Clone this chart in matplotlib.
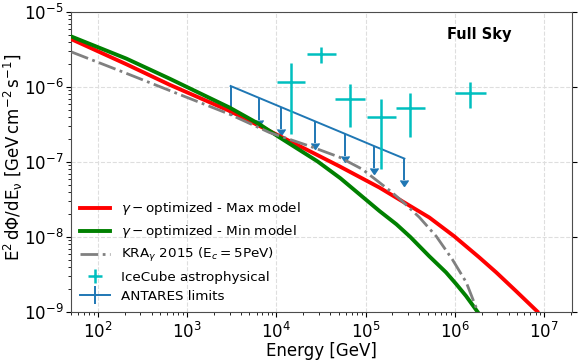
import numpy as np
import matplotlib
matplotlib.use("Agg")
import matplotlib.pyplot as plt
from matplotlib.lines import Line2D
from matplotlib.legend_handler import HandlerTuple

# ---- data ----
max_E = [50.8, 209, 639, 3000, 8390, 23500, 50900, 143000, 258000, 517000, 985000, 1.87e6,
         2.90e6, 4.82e6, 8.35e6]
max_F = [4.33e-6, 2.01e-6, 1.07e-6, 4.79e-7, 2.59e-7, 1.40e-7, 8.77e-8, 4.56e-8, 2.99e-8,
         1.82e-8, 1.02e-8, 5.36e-9, 3.38e-9, 1.91e-9, 1.02e-9]

min_E = [50.8, 209, 639, 3000, 6490, 10860, 28900, 52200, 143000, 221000, 317000,
         517000, 795000, 1.04e6, 1.33e6, 1.80e6]
min_F = [4.70e-6, 2.39e-6, 1.29e-6, 5.31e-7, 3.18e-7, 2.13e-7, 1.02e-7, 6.07e-8,
         2.22e-8, 1.48e-8, 1.0e-8, 5.53e-9, 3.38e-9, 2.34e-9, 1.64e-9, 1.0e-9]

kra_E = [50.8, 209, 990, 3000, 8390, 23500, 50900, 92000, 184600, 258000, 400000, 619000,
         935000, 1.34e6, 1.78e6]
kra_F = [2.93e-6, 1.52e-6, 7.29e-7, 4.33e-7, 2.47e-7, 1.63e-7, 1.16e-7, 8.0e-8, 4.20e-8,
         2.99e-8, 1.83e-8, 1.02e-8, 5.04e-9, 2.49e-9, 1.05e-9]

ic_E = [14680, 31800, 67600, 149000, 317000, 1.49e6]
ic_Elo = [10100, 21900, 45900, 103000, 219000, 1.01e6]
ic_Ehi = [21200, 46800, 99600, 219000, 467000, 2.23e6]
ic_F = [1.17e-6, 2.79e-6, 7.0e-7, 4.03e-7, 5.31e-7, 8.42e-7]
ic_Flo = [2.34e-7, 2.07e-6, 2.97e-7, 8.0e-8, 2.15e-7, 5.2e-7]
ic_Fhi = [2.12e-6, 3.46e-6, 1.09e-6, 7.0e-7, 8.24e-7, 1.15e-6]

ant_E = [3080, 6320, 11350, 27400, 59000, 123000, 272000]
ant_F = [1.03e-6, 7.20e-7, 5.38e-7, 3.47e-7, 2.37e-7, 1.64e-7, 1.11e-7]
ant_end = [5.04e-7, 3.60e-7, 2.73e-7, 1.78e-7, 1.20e-7, 8.24e-8, 5.70e-8]

fig = plt.figure(figsize=(5.81, 3.63), dpi=100)
ax = fig.add_axes([0.122, 0.1405, 0.8625, 0.8265])

h_max, = ax.plot(max_E, max_F, color='red', lw=2.8, label=r'$\gamma-$optimized - Max model', zorder=3)
h_min, = ax.plot(min_E, min_F, color='green', lw=2.8, label=r'$\gamma-$optimized - Min model', zorder=3)
h_kra, = ax.plot(kra_E, kra_F, color='gray', lw=2.0, ls='-.', label=r'KRA$_\gamma$ 2015 (E$_c = $5PeV)', zorder=3)

ic_E_a = np.array(ic_E); ic_F_a = np.array(ic_F)
xerr = [ic_E_a - np.array(ic_Elo), np.array(ic_Ehi) - ic_E_a]
yerr = [ic_F_a - np.array(ic_Flo), np.array(ic_Fhi) - ic_F_a]
h_ic = ax.errorbar(ic_E, ic_F, xerr=xerr, yerr=yerr, fmt='.', color='c', ms=3, lw=1.8,
                   capsize=0, zorder=4)

ant_F_a = np.array(ant_F)
ax.errorbar(ant_E, ant_F, yerr=ant_F_a - np.array(ant_end), uplims=True, fmt='-',
            color='C0', lw=1.4, elinewidth=1.4, ms=5, zorder=2)
ant_proxy = (Line2D([], [], color='C0', lw=1.4),
             Line2D([], [], color='C0', marker='|', ms=13, mew=1.4, ls='none'))

ax.set_xscale('log')
ax.set_yscale('log')
ax.set_xlim(50, 2.05e7)
ax.set_ylim(1e-9, 1e-5)

ax.grid(True, which='major', ls='--', color='0.87', lw=0.8)
ax.tick_params(axis='both', which='major', labelsize=12)
ax.tick_params(axis='y', which='major', right=True, pad=2)
for s in ax.spines.values():
    s.set_color('0.3')

ax.set_xlabel('Energy [GeV]', fontsize=12, labelpad=0)
ax.set_ylabel(r'$\rm E^2\,d\Phi/dE_\nu\ [GeV\,cm^{-2}\,s^{-1}]$', fontsize=12)
ax.yaxis.set_label_coords(-0.091, 0.515)

ax.text(0.815, 0.925, 'Full Sky', transform=ax.transAxes, fontsize=10.5,
        fontweight='bold', ha='center', va='center')

ax.legend([h_max, h_min, h_kra, h_ic, ant_proxy],
          [h_max.get_label(), h_min.get_label(), h_kra.get_label(),
           'IceCube astrophysical', 'ANTARES limits'],
          handler_map={tuple: HandlerTuple(ndivide=1)},
          loc='lower left', frameon=False, fontsize=9.7, handlelength=2.2,
          borderaxespad=0.3, labelspacing=0.45)

fig.savefig('out.png', dpi=100)
